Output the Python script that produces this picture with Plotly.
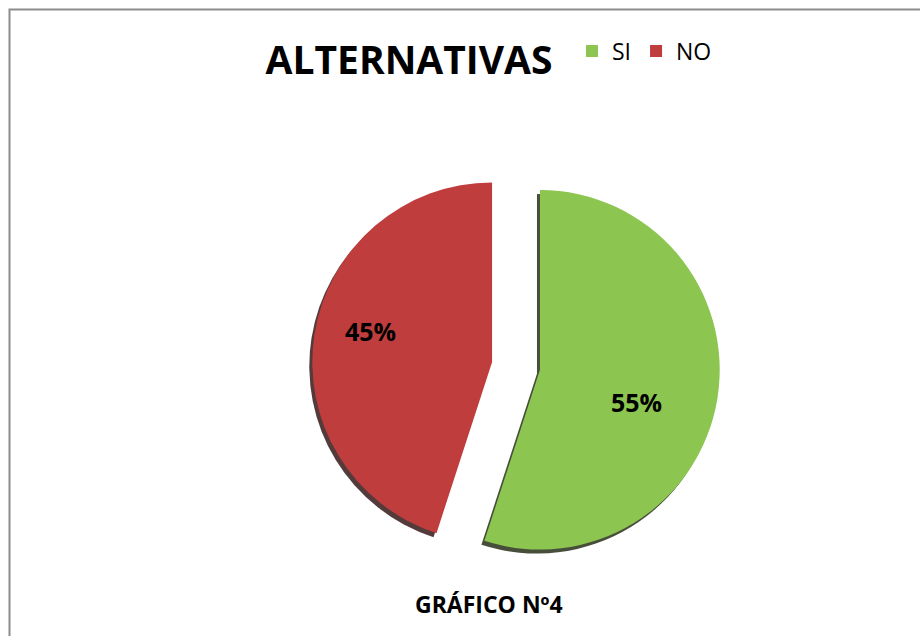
import plotly.graph_objects as go

# Survey answers (percent of respondents)
labels = ["SI", "NO"]
values = [55, 45]
slice_colors = ["#8CC54F", "#BF3D3D"]
shadow_colors = ["rgba(25,35,10,0.8)", "rgba(40,10,10,0.8)"]

# where each percentage label sits (pixels)
label_xy = [(636, 402), (370, 331)]

W, H = 920, 636

# pie box in pixels (centre and size), converted to paper fractions
cx, cy, box = 516, 366, 408
pull = 0.135


def dom(dx=0, dy=0):
    x0 = (cx - box / 2 + dx) / W
    x1 = (cx + box / 2 + dx) / W
    y0 = (H - (cy + box / 2 + dy)) / H
    y1 = (H - (cy - box / 2 + dy)) / H
    return dict(x=[x0, x1], y=[y0, y1])


fig = go.Figure()

# soft drop shadow under the slices
fig.add_trace(go.Pie(
    labels=labels, values=values, sort=False, direction="clockwise", rotation=0,
    pull=pull, domain=dom(-3, 4), marker=dict(colors=shadow_colors, line=dict(width=0)),
    textinfo="none", showlegend=False, hoverinfo="skip",
))

fig.add_trace(go.Pie(
    labels=labels, values=values, sort=False, direction="clockwise", rotation=0,
    pull=pull, domain=dom(), marker=dict(colors=slice_colors, line=dict(width=0)),
    textinfo="none", showlegend=True,
))

# percentage labels, taken from the same values as the slices
total = sum(values)
for v, (lx, ly) in zip(values, label_xy):
    fig.add_annotation(text=f"<b>{round(100 * v / total)}%</b>", xref="paper", yref="paper",
                       x=lx / W, y=1 - ly / H, xanchor="center", yanchor="middle",
                       showarrow=False,
                       font=dict(family="Open Sans", size=25, color="black"))

# outer frame of the chart area
fig.add_shape(type="rect", xref="paper", yref="paper",
              x0=9.5 / W, x1=935 / W, y0=-15 / H, y1=1 - 9.5 / H,
              line=dict(color="#8C8C8C", width=2), fillcolor="rgba(0,0,0,0)")

fig.add_annotation(text="<b>GRÁFICO Nº4</b>", xref="paper", yref="paper",
                   x=489 / W, y=1 - 604 / H, xanchor="center", yanchor="middle",
                   showarrow=False,
                   font=dict(family="Open Sans", size=23, color="black"))

fig.update_layout(
    width=W, height=H,
    margin=dict(l=0, r=0, t=0, b=0),
    paper_bgcolor="white", plot_bgcolor="white",
    title=dict(text="<b>ALTERNATIVAS</b>", x=409 / W, xanchor="center",
               y=1 - 60 / H, yanchor="middle",
               font=dict(family="Open Sans", size=39, color="black")),
    legend=dict(orientation="h", x=572 / W, xanchor="left", y=1 - 51 / H,
                yanchor="middle", font=dict(family="Open Sans", size=23, color="black"),
                traceorder="normal", itemsizing="constant"),
)

fig.write_html("out.html")
